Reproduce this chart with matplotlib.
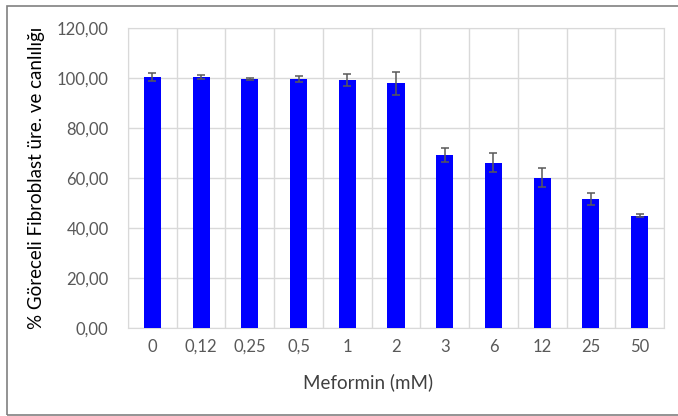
import matplotlib.pyplot as plt
from matplotlib.ticker import FuncFormatter, MultipleLocator
from matplotlib.patches import Rectangle

categories = ["0", "0,12", "0,25", "0,5", "1", "2", "3", "6", "12", "25", "50"]
viability = [100.3, 100.5, 99.7, 99.5, 99.2, 97.9, 69.2, 66.1, 60.1, 51.7, 44.9]
errors = [1.6, 0.8, 0.5, 1.2, 2.4, 4.5, 2.8, 3.8, 3.8, 2.4, 0.6]

plt.rcParams["font.family"] = ["Lato", "DejaVu Sans"]

fig = plt.figure(figsize=(6.78, 4.16), dpi=100)
ax = fig.add_axes([128 / 678, 1 - 328 / 416, 536 / 678, 300 / 416])

x = list(range(len(categories)))
ax.bar(x, viability, width=0.35, color="#0000ff", zorder=3)
ax.errorbar(x, viability, yerr=errors, fmt="none", ecolor="#595959",
            elinewidth=1.1, capsize=3.2, capthick=1.1, zorder=4)

ax.set_xlim(-0.5, len(categories) - 0.5)
ax.set_ylim(0, 120)
ax.yaxis.set_major_locator(MultipleLocator(20))
ax.yaxis.set_major_formatter(FuncFormatter(lambda v, _: f"{v:.2f}".replace(".", ",")))
ax.set_xticks(x)
ax.set_xticklabels(categories)

# vertical grid between categories, horizontal at major ticks
for b in range(len(categories) + 1):
    ax.axvline(b - 0.5, color="#d9d9d9", lw=1, zorder=1)
ax.grid(axis="y", color="#d9d9d9", lw=1, zorder=1)
for s in ax.spines.values():
    s.set_color("#d9d9d9")

ax.tick_params(length=0, colors="#595959", labelsize=12, pad=8)
ax.tick_params(axis="y", pad=14)
ax.set_xlabel("Meformin (mM)", fontsize=13.5, color="#404040", labelpad=12)
ax.xaxis.set_label_coords((368 - 128) / 536, -0.15)
ax.set_ylabel("% Göreceli Fibroblast üre. ve canlılığı", fontsize=13.5, color="black")
ax.yaxis.set_label_coords(-(128 - 45) / 536, 0.5)

fig.patches.append(Rectangle((7 / 678, 1 / 416), 1.0, 409 / 416, transform=fig.transFigure,
                             fill=False, edgecolor="#808080", lw=1.2))

fig.savefig("out.png", dpi=100)
